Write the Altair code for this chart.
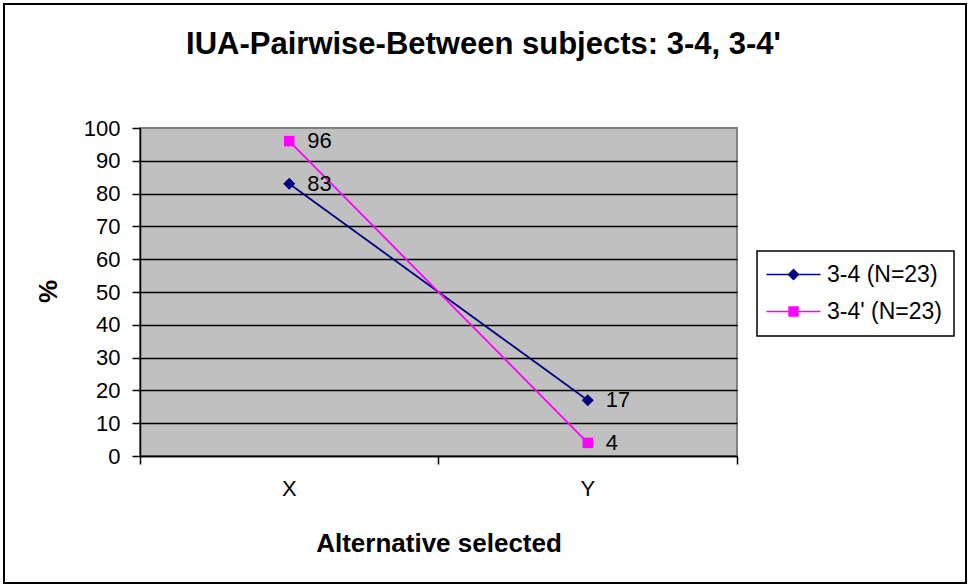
import altair as alt
import pandas as pd

# --- data -----------------------------------------------------------------
alternatives = ["X", "Y"]
series_names = ["3-4 (N=23)", "3-4' (N=23)"]
pct_34 = [83, 17]
pct_34_prime = [96, 4]
y_ticks = [0, 10, 20, 30, 40, 50, 60, 70, 80, 90, 100]

series_colors = ["#000080", "#FF00FF"]
series_shapes = ["diamond", "square"]
series_marker_sizes = [144, 110]

rows = []
for name, vals in zip(series_names, [pct_34, pct_34_prime]):
    for alt_name, v in zip(alternatives, vals):
        rows.append({"alternative": alt_name, "series": name, "pct": v})
df = pd.DataFrame(rows)

FONT = "Liberation Sans, Arial, sans-serif"
PLOT_W, PLOT_H = 597, 328

# legend symbols: a thin bar (the line) with the series marker in its middle,
# drawn as filled outlines so they take the series colour as fill
diamond_path = (
    "M-4.5,-0.13L4.5,-0.13L4.5,0.13L-4.5,0.13Z"
    "M-1,0L0,-1L1,0L0,1Z"
)
square_path = (
    "M-4.5,-0.13L4.5,-0.13L4.5,0.13L-4.5,0.13Z"
    "M-0.87,-0.87L0.87,-0.87L0.87,0.87L-0.87,0.87Z"
)

legend = alt.Legend(
    title=None,
    orient="none",
    legendX=617,
    legendY=123,
    direction="vertical",
    labelFont=FONT,
    labelFontSize=23,
    labelColor="black",
    labelOffset=22,
    symbolOffset=13,
    symbolSize=144,
    symbolStrokeWidth=0,
    symbolOpacity=1,
    rowPadding=13,
    padding=12,
    strokeColor="black",
    fillColor="white",
)

x_enc = alt.X(
    "alternative:N",
    sort=alternatives,
    scale=alt.Scale(type="band", domain=alternatives, paddingInner=0, paddingOuter=0),
    axis=alt.Axis(
        title="Alternative selected",
        titleFont=FONT,
        titleFontSize=26,
        titleFontWeight="bold",
        titleColor="black",
        titleBaseline="middle",
        titleY=87,
        labelAngle=0,
        labelFont=FONT,
        labelFontSize=22,
        labelColor="black",
        labelPadding=14,
        bandPosition=1,
        tickExtra=True,
        tickSize=8,
        tickColor="black",
        tickWidth=1.5,
        domainColor="black",
        domainWidth=1.5,
        grid=False,
    ),
)

y_enc = alt.Y(
    "pct:Q",
    scale=alt.Scale(domain=[0, 100], nice=False),
    axis=alt.Axis(
        title="%",
        titleFont=FONT,
        titleFontSize=26,
        titleFontWeight="bold",
        titleColor="black",
        titleAngle=-90,
        titleAlign="center",
        titleBaseline="middle",
        titleX=-92,
        titleY=163,
        values=y_ticks,
        labelFont=FONT,
        labelFontSize=22,
        labelColor="black",
        labelPadding=12,
        tickSize=8,
        tickColor="black",
        tickWidth=1.5,
        domainColor="black",
        domainWidth=1.5,
        grid=True,
        gridColor="black",
        gridWidth=1.3,
        gridOpacity={"condition": {"test": "datum.value >= 100", "value": 0}, "value": 1},
    ),
)

base = alt.Chart(df)

# one line layer and one marker layer per series
series_layers = []
for name, color, shape, msize in zip(
    series_names, series_colors, series_shapes, series_marker_sizes
):
    subset = base.transform_filter(alt.datum.series == name)
    series_layers.append(
        subset.mark_line(strokeWidth=1.8, color=color).encode(
            x=x_enc, y=y_enc, order=alt.Order("alternative:N")
        )
    )
    series_layers.append(
        subset.mark_point(
            filled=True, size=msize, opacity=1, shape=shape, color=color
        ).encode(x=x_enc, y=y_enc)
    )

labels = base.mark_text(
    align="left", baseline="middle", dx=18, font=FONT, fontSize=22, color="black"
).encode(x=x_enc, y=y_enc, text="pct:Q")

# legend only: line-with-marker symbols, nothing drawn in the plot
legend_layer = (
    base.transform_filter("false")
    .mark_point(filled=True, size=144, opacity=1)
    .encode(
        x=x_enc,
        y=y_enc,
        color=alt.Color(
            "series:N",
            scale=alt.Scale(domain=series_names, range=series_colors),
            legend=legend,
        ),
        shape=alt.Shape(
            "series:N",
            scale=alt.Scale(domain=series_names, range=[diamond_path, square_path]),
            legend=legend,
        ),
    )
)

# thin border around the whole figure
frame = (
    alt.Chart(pd.DataFrame({"k": [0]}))
    .mark_rect(fillOpacity=0, stroke="black", strokeWidth=2)
    .encode(
        x=alt.value(-136),
        x2=alt.value(826),
        y=alt.value(-124),
        y2=alt.value(455),
    )
)

chart = (
    alt.layer(frame, *series_layers, labels, legend_layer)
    .properties(
        width=PLOT_W,
        height=PLOT_H,
        background="white",
        autosize=alt.AutoSizeParams(type="none"),
        padding={"left": 140, "top": 128, "right": 232, "bottom": 130},
        title=alt.TitleParams(
            text="IUA-Pairwise-Between subjects: 3-4, 3-4'",
            font=FONT,
            fontSize=31,
            fontWeight="bold",
            color="black",
            anchor="middle",
            baseline="alphabetic",
            dx=45,
            dy=82,
            offset=0,
        ),
    )
    .configure_view(fill="#C0C0C0", stroke="#808080", strokeWidth=2)
    .configure_legend(strokeWidth=1.5)
)

chart.save("out.html", embed_options={"renderer": "svg", "actions": False})
